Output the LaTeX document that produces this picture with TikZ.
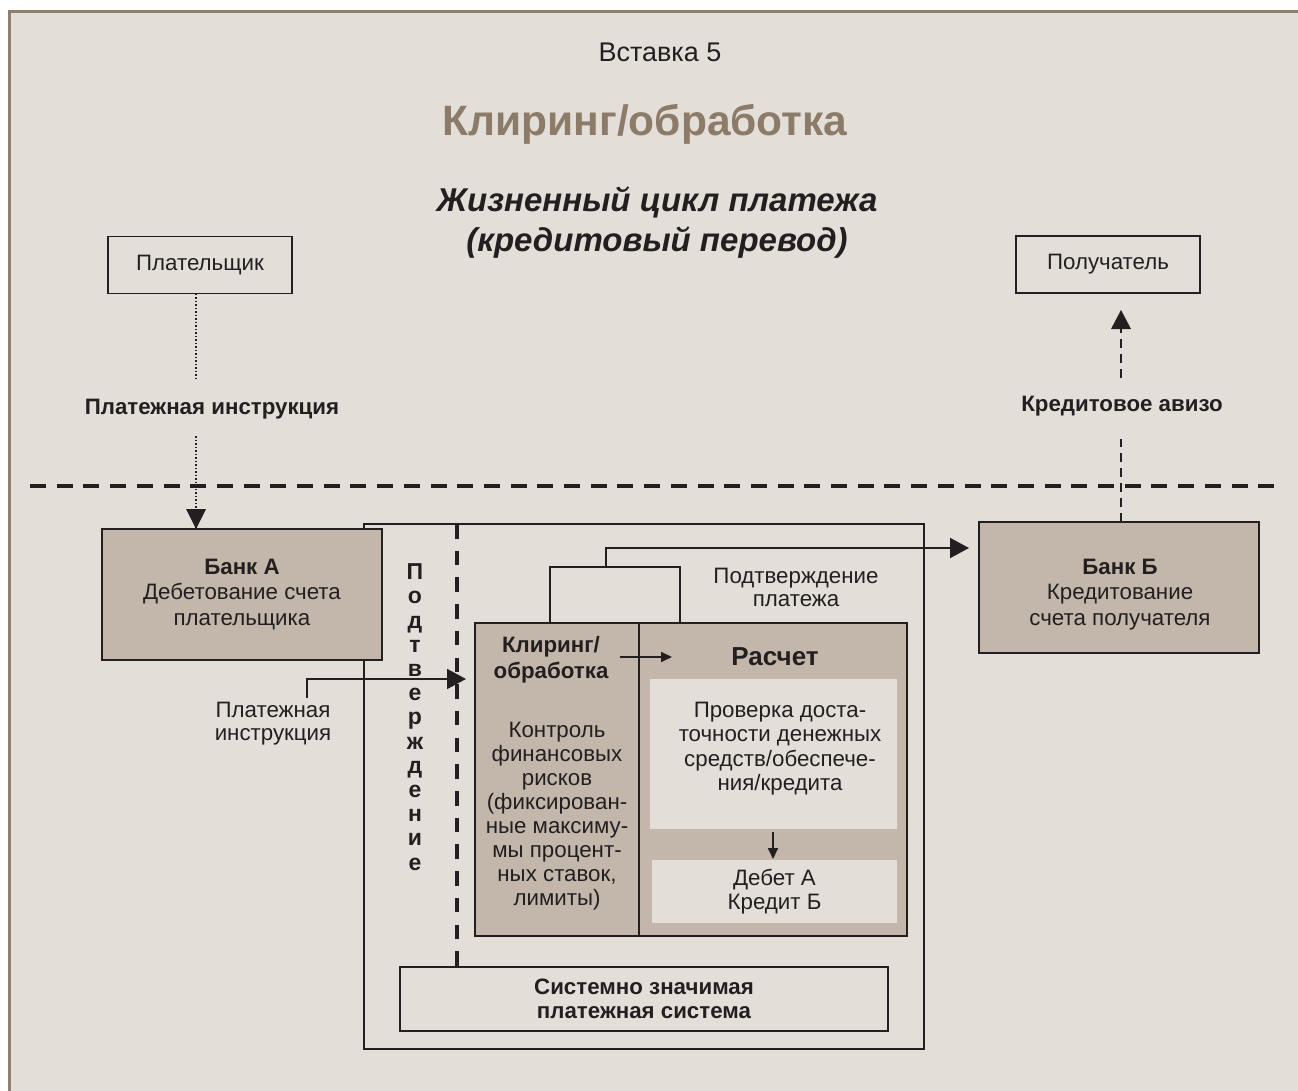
\documentclass[tikz,border=0pt]{standalone}
\usepackage{fontspec}
\setmainfont{Liberation Sans}
\usetikzlibrary{arrows.meta}
\definecolor{bgc}{HTML}{E3DFD8}
\definecolor{boxc}{HTML}{C2B7AA}
\definecolor{brownc}{HTML}{8E7F6D}
\definecolor{titlec}{HTML}{8B7B68}
\definecolor{ink}{HTML}{231F20}
\newcommand{\fs}[2]{\fontsize{#1}{#2}\selectfont}
\begin{document}
\begin{tikzpicture}[x=1pt,y=-1pt,
  every node/.style={text=ink, inner sep=0pt, outer sep=0pt},
  txt/.style={font=\fs{22.3}{25.5}, align=center},
  btxt/.style={font=\fs{22.3}{24.5}\bfseries, align=center},
  gbox/.style={draw=ink, fill=boxc, line width=1.8pt},
  lbox/.style={fill=bgc},
  conn/.style={draw=ink, line width=1.8pt},
  bigtip/.style={-{Triangle[width=20pt,length=19pt]}},
  smalltip/.style={-{Triangle[width=10pt,length=11pt]}},
  dotline/.style={draw=ink, line width=1.5pt, dash pattern=on 1.5pt off 2pt},
  thindash/.style={draw=ink, line width=2pt, dash pattern=on 9pt off 6pt},
  bigdash/.style={draw=ink, line width=4pt, dash pattern=on 16pt off 10.7pt},
]
\useasboundingbox (0,0) rectangle (1298,1091);
\fill[white] (0,0) rectangle (1298,1091);
\fill[bgc] (8,10) rectangle (1298,1091);
\draw[brownc, line width=2.8pt] (9.4,1091) -- (9.4,11.4) -- (1298,11.4);

% titles
\node[font=\fs{27}{30}] (vst) at (660,52) {Вставка 5};
\node[font=\fs{42.5}{48}\bfseries, text=titlec] (ttl) at (645,124) {Клиринг/обработка};
\node[font=\fs{33}{40}\bfseries\itshape, align=center] (life) at (657,223) {Жизненный цикл платежа\\(кредитовый перевод)};

% top boxes
\node[draw=ink, line width=1.8pt, minimum width=184pt, minimum height=57pt, font=\fs{22.3}{25}] (payer) at (200,265) {Плательщик};
\node[draw=ink, line width=1.8pt, minimum width=184pt, minimum height=57pt, font=\fs{22.3}{25}] (recv) at (1108,264.5) {Получатель};

% outer system box and inner system box
\node[draw=ink, line width=1.8pt, minimum width=560pt, minimum height=525pt] (outer) at (644,786.5) {};
\node[draw=ink, line width=1.8pt, minimum width=488pt, minimum height=64pt, btxt] (sys) at (644,999) {Системно значимая\\платежная система};

% banks
\node[gbox, minimum width=280pt, minimum height=131pt, txt] (bankA) at (242,594.5) {\textbf{Банк А}\\Дебетование счета\\плательщика};
\node[gbox, minimum width=280pt, minimum height=131pt] (bankB) at (1119,587.5) {};
\node[txt] (bankBt) at (1120,594.5) {\textbf{Банк Б}\\Кредитование\\счета получателя};

% clearing and settlement
\node[gbox, minimum width=164pt, minimum height=313pt] (clr) at (557,779.5) {};
\node[gbox, minimum width=268pt, minimum height=313pt] (rasch) at (773,779.5) {};
\node[lbox, minimum width=247pt, minimum height=150pt] (chk) at (773.5,754) {};
\node[txt, font=\fs{22.3}{24.5}] (chkt) at (780,748.5) {Проверка доста-\\точности денежных\\средств/обеспече-\\ния/кредита};
\node[lbox, minimum width=245pt, minimum height=63pt, txt, font=\fs{22.3}{24}] (deb) at (774.5,891.5) {Дебет А\\Кредит Б};
\node[btxt, font=\fs{22.3}{26}\bfseries] (clrh) at (551,660) {Клиринг/\\обработка};
\node[txt, font=\fs{22.3}{24.1}] (clrb) at (557,816) {Контроль\\финансовых\\рисков\\(фиксирован-\\ные максиму-\\мы процент-\\ных ставок,\\лимиты)};
\node[font=\fs{26}{30}\bfseries] (rh) at (775,657) {Расчет};

% labels
\node[btxt] (plinstr) at (212,409) {Платежная инструкция};
\node[btxt] (avizo) at (1122,406) {Кредитовое авизо};
\node[txt, font=\fs{22.3}{23.5}] (plinstr2) at (273,723.5) {Платежная\\инструкция};
\node[txt, font=\fs{22.3}{23.5}] (pconf) at (796,587.5) {Подтверждение\\платежа};
\node[align=center, font=\fs{23}{24.2}\bfseries] (vconf) at (415,717) {П\\о\\д\\т\\в\\е\\р\\ж\\д\\е\\н\\и\\е};

% coordinates for free ends
\coordinate (h1) at (30,486);
\coordinate (h2) at (1282,486);
\coordinate (d1) at (196,378);
\coordinate (d2) at (196,436);
\coordinate (c1) at (1121,439);
\coordinate (c2) at (1121,378);
\coordinate (ip) at (307,698);

% horizontal boundary
\draw[bigdash] (h1) -- (h2);

% payer -> bank A
\draw[dotline] ([xshift=-4pt]payer.south) -- (d1);
\draw[dotline] (d2) -- (bankA.north -| d2);
\fill[ink] (bankA.north -| d2) -- ++(-10,-20) -- ++(20,0) -- cycle;

% bank B -> recipient
\draw[thindash] (bankB.north -| c1) -- (c1);
\draw[thindash] (c2) -- ([yshift=-36pt]recv.south -| c2);
\fill[ink] ([yshift=-17pt]recv.south -| c2) -- ++(-10,19) -- ++(20,0) -- cycle;

% vertical dashed line
\draw[bigdash, dash pattern=on 14.5pt off 12.2pt] ([xshift=-187pt]outer.north) -- ([xshift=-187pt]outer.north |- sys.north);

% payment instruction into clearing
\draw[conn, bigtip, shorten >=9pt] (ip) |- ([yshift=100.5pt]clr.west);

% clearing -> settlement
\draw[conn, smalltip] ([xshift=-19pt,yshift=122.5pt]clr.east) -- ([xshift=33pt,yshift=122.5pt]clr.east);

% loop clearing - settlement
\draw[conn] ([xshift=-7pt]clr.north) -- ++(0,-56) -| ([xshift=-93pt]rasch.north);

% confirmation to bank B
\draw[conn, bigtip, shorten >=10pt] ([xshift=49pt,yshift=56pt]clr.north) |- ([yshift=39.5pt]bankB.west);

% check -> debit
\draw[conn, smalltip, shorten <=3pt, shorten >=1pt] ([xshift=-0.5pt]chk.south) -- ([xshift=-0.5pt]chk.south |- deb.north);
\end{tikzpicture}
\end{document}
